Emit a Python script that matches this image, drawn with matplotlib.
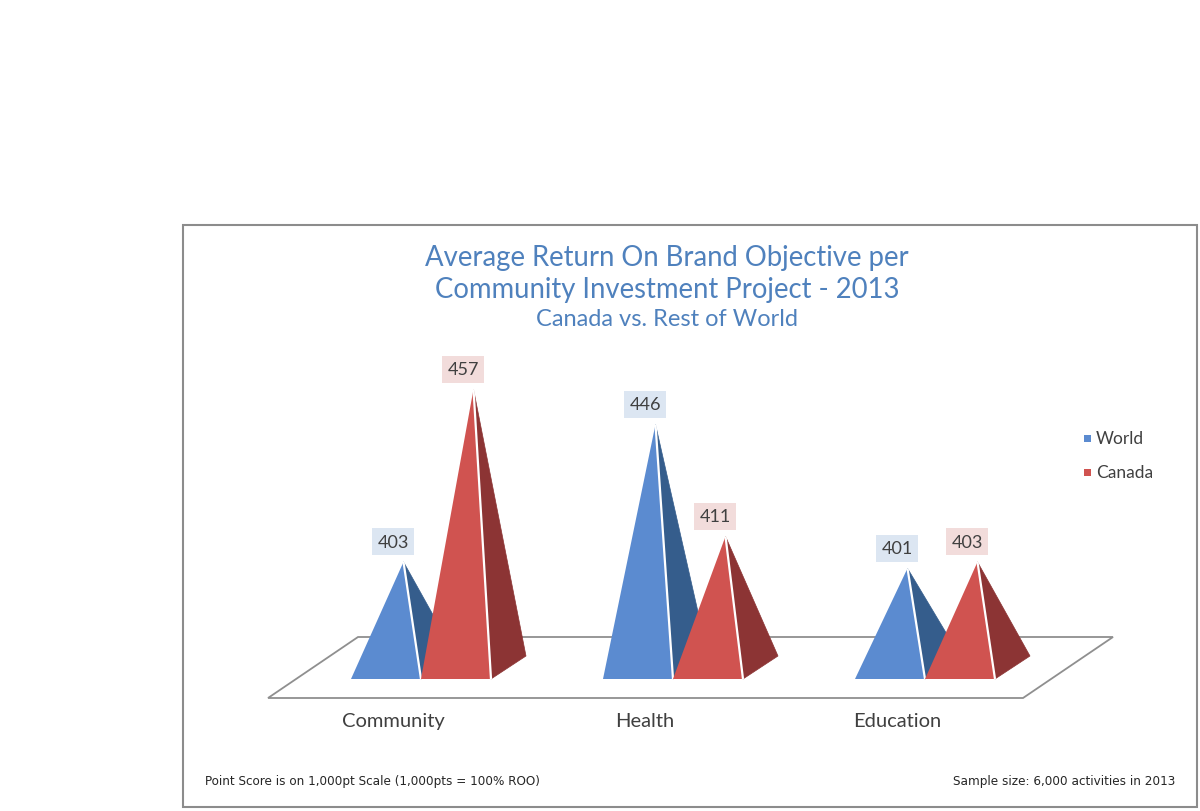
import matplotlib
matplotlib.use("Agg")
import matplotlib.pyplot as plt
from matplotlib.patches import Polygon, Rectangle

categories = ["Community", "Health", "Education"]
world = [403, 446, 401]
canada = [457, 411, 403]
series_names = ["World", "Canada"]

W, H = 1200, 812
BASE = 370  # value at the floor level

front_cols = ["#5b8bd0", "#d05350"]
side_cols = ["#355d8c", "#8c3434"]
label_bg = ["#dce6f2", "#f2dcdb"]


def fx(px):
    return px / W


def fy(py):
    return 1 - py / H


def main():
    plt.rcParams['font.family'] = ['Lato', 'DejaVu Sans']
    fig = plt.figure(figsize=(12, 8.12), dpi=100)
    ax = fig.add_axes([0, 0, 1, 1])
    # pixel -> data: px = 421 + 252*i ; py = 668.5 - 3.2*(v - BASE)
    ax.set_xlim(-421 / 252, (W - 421) / 252)
    ax.set_ylim(BASE - (H - 668.5) / 3.2, BASE + 668.5 / 3.2)
    ax.axis('off')

    # chart frame
    fig.patches.append(Rectangle((fx(183), fy(808)), fx(1197) - fx(183), fy(226) - fy(808),
                                 transform=fig.transFigure, fill=False,
                                 edgecolor="#8c8c8c", linewidth=1.5))

    # floor
    fl_front = BASE - 30.5 / 3.2
    fl_back = BASE + 30.5 / 3.2
    floor = Polygon([(-0.607, fl_front), (2.389, fl_front), (2.746, fl_back), (-0.25, fl_back)],
                    closed=True, facecolor="white", edgecolor="#8f8f8f", linewidth=1.3, zorder=1)
    ax.add_patch(floor)

    w = 70 / 252
    ddx = 35 / 252
    ddy = 23 / 3.2
    for i, cat in enumerate(categories):
        for s, vals in enumerate([world, canada]):
            v = vals[i]
            x0 = i - w + s * w
            yf = BASE - ddy / 2
            peak = (x0 + w / 2 + ddx / 2, v)
            side = Polygon([(x0 + w, yf), (x0 + w + ddx, yf + ddy), peak], closed=True,
                           facecolor=side_cols[s], edgecolor=side_cols[s], linewidth=0.5, zorder=2 + s)
            front = Polygon([(x0, yf), (x0 + w, yf), peak], closed=True,
                            facecolor=front_cols[s], edgecolor="none", zorder=2 + s)
            ax.add_patch(side)
            ax.add_patch(front)
            ax.plot([x0 + w, peak[0]], [yf, v], color="white", linewidth=1.6, zorder=2 + s,
                    solid_capstyle="butt")
            ax.text(x0 + 42 / 252, v + 20 / 3.2, str(v), ha="center", va="center",
                    fontsize=13, color="#404040", zorder=5,
                    bbox=dict(boxstyle="square,pad=0.3", facecolor=label_bg[s], edgecolor="none"))
        ax.text(i - 28 / 252, BASE - (722 - 668.5) / 3.2, cat, ha="center", va="center",
                fontsize=14.5, color="#404040")

    # titles
    fig.text(fx(667), fy(258), "Average Return On Brand Objective per", ha="center", va="center",
             fontsize=19.8, color="#4f81bd")
    fig.text(fx(667), fy(290), "Community Investment Project - 2013", ha="center", va="center",
             fontsize=19.8, color="#4f81bd")
    fig.text(fx(667), fy(320), "Canada vs. Rest of World", ha="center", va="center",
             fontsize=17, color="#4f81bd")

    # legend
    for k, name in enumerate(series_names):
        yy = 439 + k * 34
        fig.patches.append(Rectangle((fx(1084), fy(yy + 3.5)), 7 / W, 7 / H,
                                     transform=fig.transFigure, facecolor=front_cols[k],
                                     edgecolor="none"))
        fig.text(fx(1096), fy(yy), name, ha="left", va="center", fontsize=12.5, color="#404040")

    # footnotes
    fig.text(fx(205), fy(782), "Point Score is on 1,000pt Scale (1,000pts = 100% ROO)",
             ha="left", va="center", fontsize=9.6, color="#262626",
             family='DejaVu Sans', fontstretch='condensed')
    fig.text(fx(1175), fy(782), "Sample size: 6,000 activities in 2013",
             ha="right", va="center", fontsize=9.6, color="#262626",
             family='DejaVu Sans', fontstretch='condensed')

    fig.savefig("out.png", dpi=100, facecolor="white")


if __name__ == "__main__":
    main()
